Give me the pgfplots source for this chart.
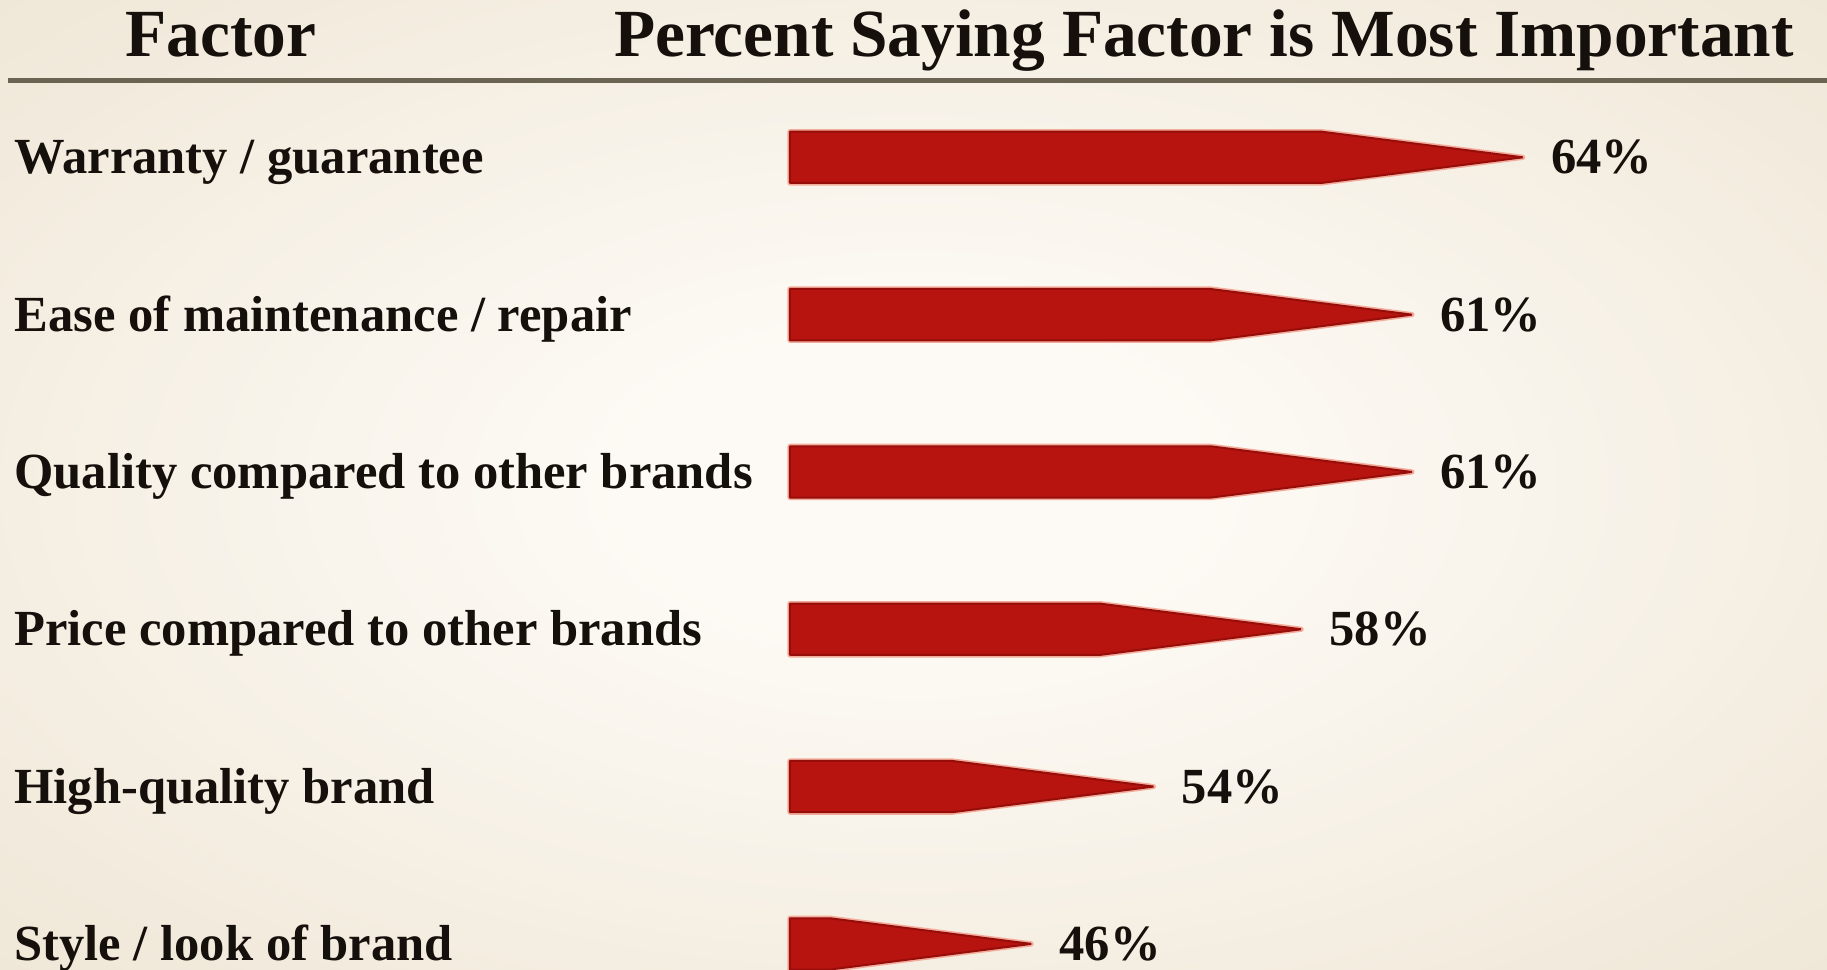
\documentclass[border=0pt]{standalone}
\usepackage{pgfplots}
\pgfplotsset{compat=1.18}
\usepackage{fontspec}
\setmainfont{Liberation Serif}
\definecolor{bgin}{RGB}{253,250,245}
\definecolor{bgout}{RGB}{232,221,199}
\definecolor{barred}{RGB}{184,20,15}
\definecolor{baredge}{RGB}{150,13,10}
\definecolor{barhalo}{RGB}{243,172,155}
\definecolor{rulecol}{RGB}{108,100,82}
\definecolor{txt}{RGB}{22,16,12}
\pgfdeclareradialshading{bgshade}{\pgfpoint{0bp}{0bp}}{color(0bp)=(bgin); color(8bp)=(bgin); color(50bp)=(bgout); color(60bp)=(bgout)}
\newcommand\rowfont{\fontsize{25.3bp}{28bp}\selectfont\bfseries\color{txt}}
\newcommand\headfont{\fontsize{33.7bp}{36bp}\selectfont\bfseries\color{txt}}
% #1 row, #2 drawn tip, #3 percent label, #4 factor name
\newcommand\arrowbar[4]{%
  \pgfmathsetmacro\rEnd{#2-5.45}%
  \pgfmathsetmacro\yTop{#1-0.163}%
  \pgfmathsetmacro\yBot{#1+0.163}%
  \pgfmathsetmacro\yBase{#1+0.106}%
  \edef\temp{%
    \noexpand\addplot[draw=barhalo,line width=2.6bp,line join=round] coordinates {(44.16,\yTop) (\rEnd,\yTop) (#2,#1) (\rEnd,\yBot) (44.16,\yBot)} -- cycle;
    \noexpand\addplot[fill=barred,draw=baredge,line width=1.0bp,line join=bevel] coordinates {(44.16,\yTop) (\rEnd,\yTop) (#2,#1) (\rEnd,\yBot) (44.16,\yBot)} -- cycle;
    \noexpand\node[anchor=base west,inner sep=0pt,xshift=14bp] at (axis cs:#2,\yBase) {\noexpand\rowfont #3\noexpand\%};
    \noexpand\node[anchor=base west,inner sep=0pt] at (axis cs:23.15,\yBase) {\noexpand\rowfont #4};
  }%
  \temp
}
\begin{document}
\begin{tikzpicture}
\useasboundingbox (0,0) rectangle (913.5bp,485bp);
\shade[shading=bgshade] (0,0) rectangle (913.5bp,485bp);
\begin{axis}[
  at={(0,0)}, anchor=south west,
  width=913.5bp, height=485bp, scale only axis,
  xmin=22.77, xmax=72.24,
  ymin=0, ymax=6.166, y dir=reverse,
  hide axis, clip=false,
]
\draw[rulecol,line width=2.5bp] (axis cs:23.0,0.5086) -- (axis cs:72.24,0.5086);
\node[anchor=base,inner sep=0pt] at (axis cs:28.75,0.356) {\headfont Factor};
\node[anchor=base,inner sep=0pt] at (axis cs:55.37,0.356) {\headfont Percent Saying Factor is Most Important};
\arrowbar{1}{64}{64}{Warranty / guarantee}
\arrowbar{2}{61}{61}{Ease of maintenance / repair}
\arrowbar{3}{61}{61}{Quality compared to other brands}
\arrowbar{4}{58}{58}{Price compared to other brands}
\arrowbar{5}{54}{54}{High-quality brand}
\arrowbar{6}{50.69}{46}{Style / look of brand}
\end{axis}
\end{tikzpicture}
\end{document}
